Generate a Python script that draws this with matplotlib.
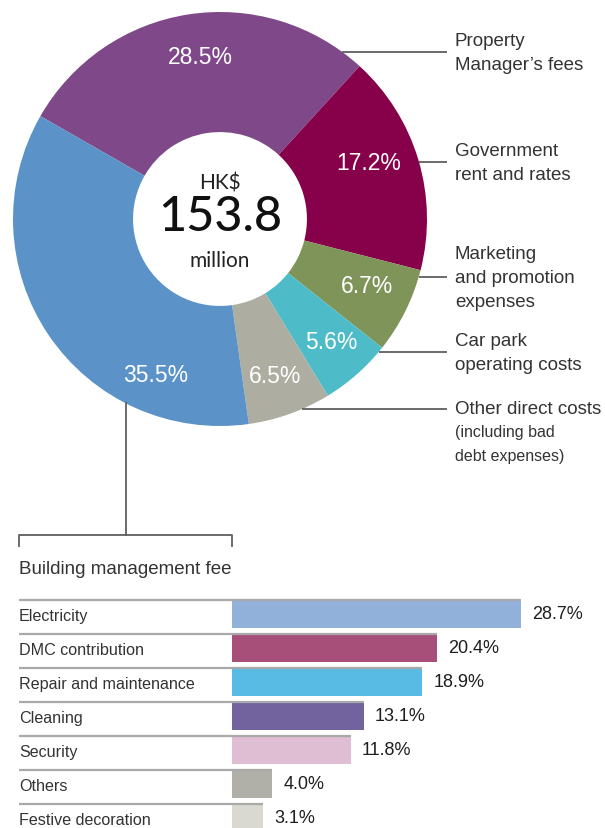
import numpy as np
import matplotlib
matplotlib.use("Agg")
import matplotlib.pyplot as plt

# ---- data -------------------------------------------------------------
cost_labels = [
    ["Property", "Manager\u2019s fees"],
    ["Government", "rent and rates"],
    ["Marketing", "and promotion", "expenses"],
    ["Car park", "operating costs"],
    ["Other direct costs"],
    ["Building management fee"],
]
cost_shares = [28.5, 17.2, 6.7, 5.6, 6.5, 35.5]
cost_colors = ["#7f4889", "#87004a", "#7e9459", "#4dbcc8", "#aeada2", "#5b93c9"]
other_note = ["(including bad", "debt expenses)"]
total_text = ["HK$", "153.8", "million"]

bmf_items = ["Electricity", "DMC contribution", "Repair and maintenance",
             "Cleaning", "Security", "Others", "Festive decoration"]
bmf_shares = [28.7, 20.4, 18.9, 13.1, 11.8, 4.0, 3.1]
bmf_colors = ["#92b1da", "#a84f79", "#57bbe4", "#72629e", "#dfbdd2",
              "#b0b0a8", "#d9d9d1"]

# ---- figure -----------------------------------------------------------
W, H = 605, 829
fig = plt.figure(figsize=(W / 100, H / 100), dpi=100)
SANS = "Liberation Sans"
TXT = "#333333"
LINE = "#5f5f5f"

# donut geometry in pixels
CX, CY, R = 220, 220, 207
HOLE = 0.42
START = 150.2

pie_ax = fig.add_axes([(CX - R) / W, 1 - (CY + R) / H, 2 * R / W, 2 * R / H])
wedges, _ = pie_ax.pie(cost_shares, colors=cost_colors, startangle=START,
                       counterclock=False, radius=1.0,
                       wedgeprops=dict(width=1 - HOLE, linewidth=0))
pie_ax.set_xlim(-1, 1)
pie_ax.set_ylim(-1, 1)
pie_ax.set_aspect("equal")
pie_ax.axis("off")

# percentage labels inside the ring
label_shift = [-1.9, 4.0, 1.9, 0.7, -0.1, 33.5]
label_rad = [0.79, 0.77, 0.78, 0.80, 0.80, 0.81]
for w, v, dshift, rr in zip(wedges, cost_shares, label_shift, label_rad):
    mid = np.deg2rad((w.theta1 + w.theta2) / 2 + dshift)
    pie_ax.text(rr * np.cos(mid), rr * np.sin(mid), f"{v}%", color="white",
                fontsize=16.5, family=SANS, ha="center", va="center")

# ---- bar chart --------------------------------------------------------
PX_PER_PCT = (521 - 232) / 28.7
BAR_X0 = 232
ROW0, PITCH, TOP = 615, 34, 590
bar_ax = fig.add_axes([0, 0, 1, (H - TOP) / H])
bar_ax.set_xlim(-BAR_X0 / PX_PER_PCT, (W - BAR_X0) / PX_PER_PCT)
bar_ax.set_ylim((H - ROW0) / PITCH, (TOP - ROW0) / PITCH)
bar_ax.axis("off")
rows = np.arange(len(bmf_items))
bar_h = 28 / PITCH
bar_ax.barh(rows, bmf_shares, height=bar_h, color=bmf_colors, linewidth=0)
label_x = (19 - BAR_X0) / PX_PER_PCT
bar_ax.hlines(rows - bar_h / 2, label_x, bmf_shares, color="#a9a9a9",
              linewidth=1.6, zorder=3)
for i, (name, v) in enumerate(zip(bmf_items, bmf_shares)):
    bar_ax.text(label_x, i + 2 / PITCH, name, fontsize=11.6, family=SANS,
                color=TXT, ha="left", va="center")
    bar_ax.text(v + 11 / PX_PER_PCT, i, f"{v}%", fontsize=13, family=SANS,
                color="#1e1e1e", ha="left", va="center")

# ---- overlay in pixel coordinates: centre text, leaders, bracket ------
ov = fig.add_axes([0, 0, 1, 1])
ov.set_xlim(0, W)
ov.set_ylim(H, 0)
ov.axis("off")
ov.patch.set_alpha(0)

ov.text(CX, 183, total_text[0], family="Lato", fontsize=15, color="#222222",
        ha="center", va="center")
ov.text(CX, 217, total_text[1], family="Lato", fontsize=35, weight="medium",
        color="#111111", ha="center", va="center")
ov.text(CX, 261, total_text[2], family="Lato", fontsize=15, color="#222222",
        ha="center", va="center")

LEAD_END, TEXT_X, LH = 447, 455, 24
leader_y = [53, 163, 278, 353, 410]
for lines, ly in zip(cost_labels[:5], leader_y):
    dy = ly - CY
    x0 = CX + np.sqrt(R ** 2 - dy ** 2)
    ov.plot([x0, LEAD_END], [ly, ly], color=LINE, lw=1.3,
            solid_capstyle="butt")
    n = len(lines)
    for k, s in enumerate(lines):
        ov.text(TEXT_X, ly + (k - (n - 1) / 2) * LH, s, family=SANS,
                fontsize=13.5, color=TXT, ha="left", va="center")
for k, s in enumerate(other_note):
    ov.text(TEXT_X, 433 + k * LH, s, family=SANS, fontsize=11.5, color=TXT,
            ha="left", va="center")

# leader from the building-management wedge down to the bracket
BX = 126
by0 = CY + np.sqrt(R ** 2 - (BX - CX) ** 2)
ov.plot([BX, BX], [by0, 536], color=LINE, lw=1.3)
ov.plot([19, 19, 232, 232], [547, 536, 536, 547], color=LINE, lw=1.3)
ov.text(19, 570, cost_labels[5][0], family=SANS, fontsize=13.5, color=TXT,
        ha="left", va="center")

fig.savefig("out.png", dpi=100)
